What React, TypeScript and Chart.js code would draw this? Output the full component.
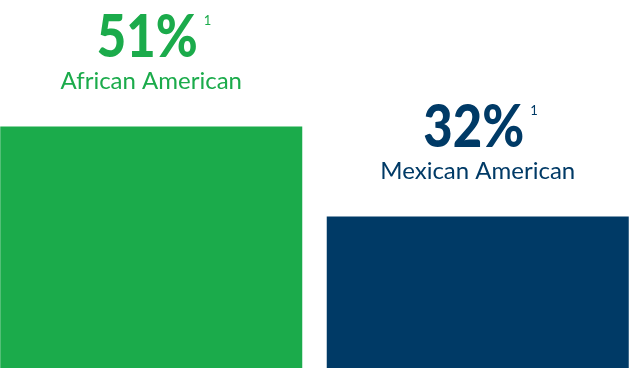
import React, { useEffect, useRef } from "react";
import { Chart, registerables } from "chart.js";

Chart.register(...registerables);

const categories = ["African American", "Mexican American"];
const values = [51, 32];
const valueLabels = ["51%", "32%"];
const footnotes = ["1", "1"];
const colors = ["#1bab4b", "#003a66"];

const labelPlugin = {
  id: "barLabels",
  afterDatasetsDraw(chart: any) {
    const ctx = chart.ctx;
    const meta = chart.getDatasetMeta(0);
    meta.data.forEach((bar: any, i: number) => {
      const x = bar.x;
      const top = bar.y;
      const sx = 0.86;
      ctx.save();
      ctx.fillStyle = colors[i];
      ctx.textBaseline = "alphabetic";
      ctx.textAlign = "left";
      ctx.font = "900 59px Lato";
      const w = ctx.measureText(valueLabels[i]).width * sx;
      const mainLeft = x - 4 - w / 2;
      ctx.save();
      ctx.translate(mainLeft, top - 69.5);
      ctx.scale(sx, 1);
      ctx.fillText(valueLabels[i], 0, 0);
      ctx.restore();
      ctx.font = "13px Lato";
      ctx.fillText(footnotes[i], mainLeft + w + 6, top - 101);
      ctx.textAlign = "center";
      ctx.font = "24px Lato";
      ctx.fillText(categories[i], x, top - 37);
      ctx.restore();
    });
  },
};

export default function App() {
  const ref = useRef<HTMLCanvasElement>(null);
  useEffect(() => {
    const chart = new Chart(ref.current!, {
      type: "bar",
      data: {
        labels: categories,
        datasets: [
          {
            data: values,
            backgroundColor: colors,
            barPercentage: 0.925,
            categoryPercentage: 1,
          },
        ],
      },
      options: {
        animation: false,
        responsive: false,
        layout: { padding: { top: 0, bottom: 2, left: 0, right: 0 } },
        plugins: { legend: { display: false }, tooltip: { enabled: false } },
        scales: {
          x: { display: false },
          y: { display: false, min: 0, max: 77.7 },
        },
      },
      plugins: [labelPlugin],
    });
    return () => chart.destroy();
  }, []);
  return (
    <div
      style={{
        position: "fixed",
        left: 0,
        top: 0,
        width: 629,
        height: 370,
        overflow: "hidden",
        background: "#fff",
      }}
    >
      <canvas
        ref={ref}
        width={653}
        height={370}
        style={{ position: "absolute", left: -12, top: 0, width: 653, height: 370 }}
      />
    </div>
  );
}
